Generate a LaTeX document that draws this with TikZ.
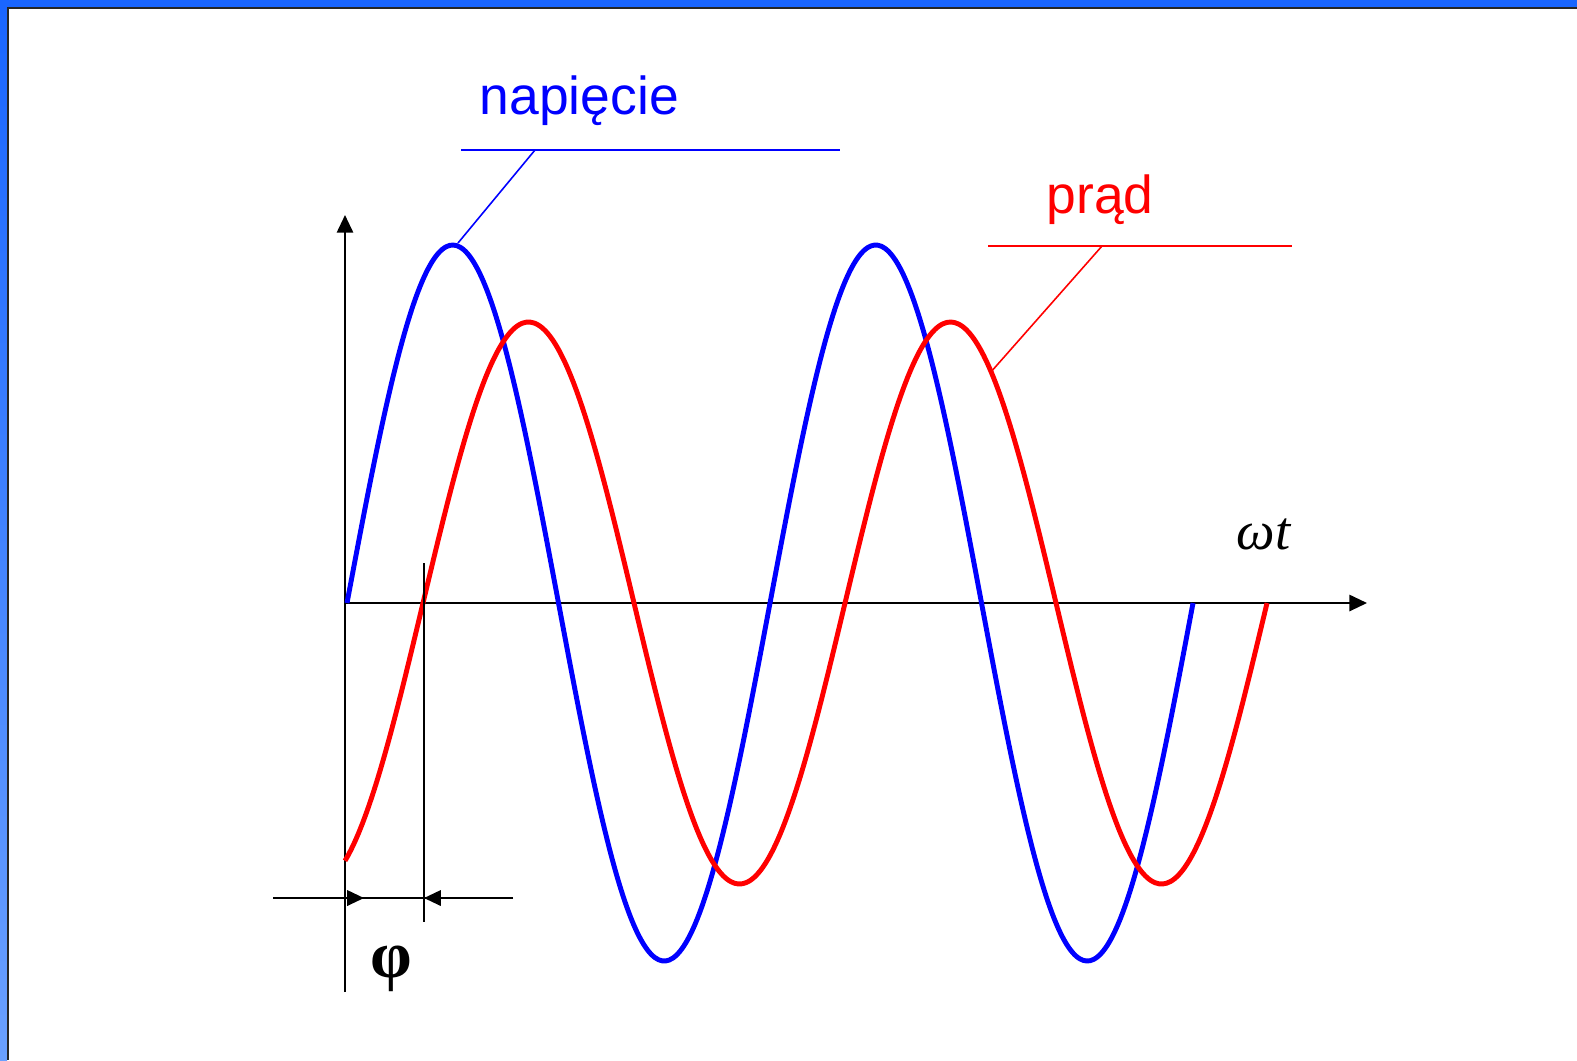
\documentclass[tikz,border=0pt]{standalone}
\usepackage{fontspec}
\setmainfont{Liberation Sans}
\newfontfamily\timesfont{Liberation Serif}
\usetikzlibrary{arrows.meta}

\definecolor{frameblue}{RGB}{26,102,255}
\definecolor{framelight}{RGB}{106,160,255}
\definecolor{volt}{RGB}{0,0,255}
\definecolor{curr}{RGB}{255,0,0}

\tikzset{
  axis/.style={line width=0.6pt, -{Triangle[length=5pt,width=4.6pt]}},
  wave/.style={line width=1.4pt, smooth},
  leader/.style={line width=0.45pt},
  dimline/.style={line width=0.6pt},
  dimtip/.style={line width=0.6pt, -{Triangle[length=4.8pt,width=4.4pt]}},
  label/.style={font=\fontsize{15.2pt}{17pt}\selectfont, inner sep=0pt}
}

\begin{document}
\begin{tikzpicture}[x=0.01cm, y=-0.01cm]
\useasboundingbox (0,0) rectangle (1577,1060);

% Slide frame (blue bars, dark inner edge)
\fill[frameblue] (0,0) rectangle (1577,7);
\shade[top color=frameblue, bottom color=framelight] (0,7) rectangle (7,1060);
\draw[line width=0.6pt, black!85] (8,1060) -- (8,8) -- (1577,8);

% Origin and axes
\coordinate (O) at (345,603);
\coordinate (yBot) at (345,992);
\coordinate (yTop) at (345,215);
\coordinate (xEnd) at (1367,603);
\draw[axis] (yBot) -- (yTop);
\draw[axis] (O) -- (xEnd);
\node[anchor=base west, inner sep=0pt, font=\timesfont\itshape\fontsize{15.5pt}{17pt}\selectfont] (wt) at (1236,549) {ωt};

% Voltage and current waves
\draw[wave, volt] plot[domain=347:1193, samples=240] (\x, {603-358*sin((\x-347)/423*360)});
\draw[wave, curr] plot[domain=345:1267, samples=240] (\x, {603-281*sin((\x-423)/422*360)});

% Labels with underlines and leaders
\node[label, text=volt, anchor=base west] (napiecie) at (479,114) {napięcie};
\coordinate (nL) at (461,150);
\coordinate (nR) at (840,150);
\coordinate (nK) at (535,150);
\coordinate (nPeak) at (458,243);
\draw[leader, volt] (nL) -- (nR);
\draw[leader, volt] (nK) -- (nPeak);

\node[label, text=curr, anchor=base west] (prad) at (1046,213) {prąd};
\coordinate (pL) at (988,246);
\coordinate (pR) at (1292,246);
\coordinate (pK) at (1102,246);
\coordinate (pPt) at (990,373);
\draw[leader, curr] (pL) -- (pR);
\draw[leader, curr] (pK) -- (pPt);

% Phase shift marker
\coordinate (zTop) at (424,563);
\coordinate (zBot) at (424,922);
\draw[dimline] (zTop) -- (zBot);
\coordinate (dL) at (273,898);
\coordinate (dA) at (364,898);
\coordinate (dB) at (424,898);
\coordinate (dR) at (513,898);
\draw[dimline] (dL) -- (dR);
\draw[dimtip] (dL) -- (dA);
\draw[dimtip] (dR) -- (dB);
\node[anchor=base, inner sep=0pt, font=\timesfont\bfseries\fontsize{19pt}{21pt}\selectfont] (phi) at (391,977) {φ};

\end{tikzpicture}
\end{document}
